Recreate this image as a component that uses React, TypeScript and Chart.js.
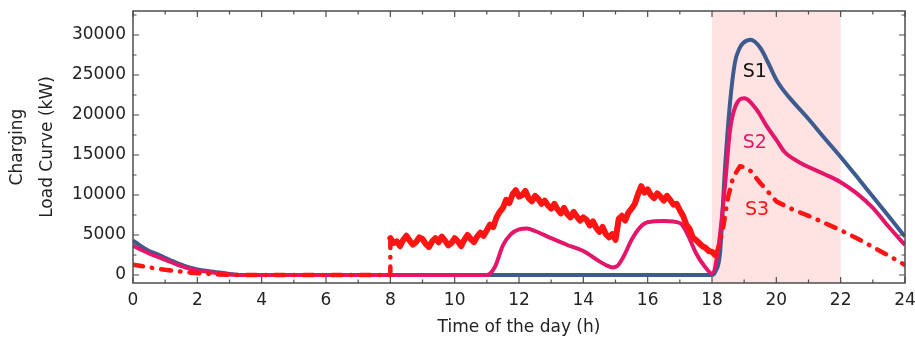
import { useEffect, useRef } from 'react';
import { Chart, registerables } from 'chart.js';

Chart.register(...registerables);

// ---- tick labels ----
const xTickValues = [0, 2, 4, 6, 8, 10, 12, 14, 16, 18, 20, 22, 24];
const yTickValues = [0, 5000, 10000, 15000, 20000, 25000, 30000];

// ---- S1 ----
const s1Hours = [0, 0.25, 0.5, 0.75, 1, 1.25, 1.5, 1.75, 2, 2.5, 3, 3.3, 18, 18.1, 18.25, 18.4, 18.56, 18.71, 18.85, 18.97, 19.2, 19.5, 19.75, 20, 20.2, 20.4, 21, 21.5, 22, 22.5, 23, 23.5, 24];
const s1Values = [4300, 3600, 3000, 2600, 2150, 1700, 1300, 950, 700, 420, 120, 0, 0, 400, 2750, 13100, 21500, 26500, 28300, 29000, 29400, 28400, 26500, 24400, 23200, 22200, 19500, 17100, 14750, 12300, 9800, 7300, 4800];

// ---- S2 ----
const s2Hours = [0, 0.25, 0.5, 0.75, 1, 1.25, 1.5, 1.75, 2, 2.5, 3, 3.3, 11, 11.25, 11.5, 11.75, 12, 12.25, 12.5, 13, 13.5, 14, 14.5, 14.75, 14.9, 15.05, 15.25, 15.5, 15.75, 16, 16.5, 17, 17.25, 17.5, 17.75, 18, 18.2, 18.4, 18.56, 18.72, 19, 19.4, 19.7, 20, 20.25, 20.5, 20.75, 21, 21.5, 22, 22.5, 23, 23.5, 24];
const s2Values = [3700, 3150, 2700, 2300, 1900, 1500, 1100, 800, 580, 300, 60, 0, 0, 1000, 3700, 5100, 5700, 5800, 5500, 4600, 3750, 3000, 1700, 1150, 950, 1100, 2300, 4400, 5900, 6600, 6750, 6500, 5000, 2750, 1200, 200, 3500, 11000, 18100, 21000, 22100, 20600, 18600, 16900, 15400, 14600, 14000, 13500, 12600, 11600, 10200, 8400, 6000, 3750];

// ---- S3 (morning, measured midday 8h-18h every 0.1 h, evening) ----
const s3MorningHours = [0, 0.5, 1, 1.5, 2, 2.5, 3, 3.5, 7.99];
const s3MorningValues = [1300, 950, 650, 420, 230, 100, 20, 0, 0];
const s3MidStartHour = 8;
const s3MidStepHour = 0.1;
const s3MidValues = [
  4600, 4000, 4200, 3600, 4400, 4900, 4300, 3800, 4100, 4700,
  4500, 3900, 3500, 4200, 4600, 4100, 4800, 4300, 3700, 4000,
  4600, 4200, 3600, 4400, 5000, 4500, 4100, 4800, 5300, 4900,
  5600, 6300, 6000, 7200, 7900, 8400, 9400, 9000, 10100, 10600,
  9800, 10000, 10500, 9600, 9200, 9900, 9500, 8900, 9300, 8700,
  8300, 8900, 8200, 7700, 8400, 7600, 7200, 7900, 7300, 6800,
  7200, 6900, 6200, 6700, 5900, 5400, 6000, 5100, 4700, 5100,
  4400, 7000, 7400, 6800, 7800, 8300, 8900, 10100, 11100, 10300,
  10700, 10000, 9600, 10200, 9800, 9300, 9900, 9400, 8800, 8900,
  8100, 7400, 6300, 5800, 4700, 4400, 4000, 3600, 3400, 3000,
  2900,
];
const s3EveningHours = [18.1, 18.2, 18.35, 18.5, 18.66, 18.87, 19, 19.2, 19.5, 19.7, 20, 20.5, 21, 21.5, 22, 22.5, 23, 23.5, 24];
const s3EveningValues = [2500, 3400, 6000, 9750, 12250, 13600, 13500, 13000, 11500, 10600, 9200, 8200, 7400, 6500, 5600, 4600, 3500, 2400, 1250];

// ---- shaded peak window & labels ----
const peakWindow = [18, 22];
const seriesLabels = ['S1', 'S2', 'S3'];
const labelHours = [19.33, 19.33, 19.4];
const labelValues = [25400, 16500, 8100];

const C_S1 = '#3d5b8e';
const C_S2 = '#e3166a';
const C_S3 = '#ff1414';
const labelColors = ['#111111', C_S2, C_S3];
const FRAME = '#4d4d4d';
const FONT = 'DejaVu Sans';

const toPoints = (hs: number[], vs: number[]) => hs.map((h, i) => ({ x: h, y: vs[i] }));

const s3Points = [
  ...toPoints(s3MorningHours, s3MorningValues),
  ...s3MidValues.map((v, i) => ({ x: Math.round((s3MidStartHour + i * s3MidStepHour) * 100) / 100, y: v })),
  ...toPoints(s3EveningHours, s3EveningValues),
];

const zeroPadding = (s: any) => {
  s.paddingTop = 0;
  s.paddingBottom = 0;
  s.paddingLeft = 0;
  s.paddingRight = 0;
};

const framePlugin = {
  id: 'framePlugin',
  beforeDatasetsDraw(chart: any) {
    const { ctx, chartArea, scales } = chart;
    const x = scales.x;
    const x0 = x.getPixelForValue(peakWindow[0]);
    const x1 = x.getPixelForValue(peakWindow[1]);
    ctx.save();
    ctx.fillStyle = '#ffe3e3';
    ctx.fillRect(x0, chartArea.top, x1 - x0, chartArea.bottom - chartArea.top);
    ctx.restore();
  },
  afterDatasetsDraw(chart: any) {
    const { ctx, chartArea, scales } = chart;
    const { left, right, top, bottom } = chartArea;
    const x = scales.x;
    const y = scales.y;
    ctx.save();
    ctx.strokeStyle = FRAME;
    ctx.lineWidth = 1.5;
    ctx.strokeRect(left, top, right - left, bottom - top);
    ctx.lineWidth = 1.2;
    const major = 6;
    const minor = 3.5;
    ctx.beginPath();
    for (let i = 0; i < xTickValues.length; i++) {
      const px = x.getPixelForValue(xTickValues[i]);
      ctx.moveTo(px, bottom); ctx.lineTo(px, bottom - major);
      ctx.moveTo(px, top); ctx.lineTo(px, top + major);
      if (i < xTickValues.length - 1) {
        const pm = x.getPixelForValue((xTickValues[i] + xTickValues[i + 1]) / 2);
        ctx.moveTo(pm, bottom); ctx.lineTo(pm, bottom - minor);
        ctx.moveTo(pm, top); ctx.lineTo(pm, top + minor);
      }
    }
    for (let i = 0; i < yTickValues.length; i++) {
      const py = y.getPixelForValue(yTickValues[i]);
      ctx.moveTo(left, py); ctx.lineTo(left + major, py);
      ctx.moveTo(right, py); ctx.lineTo(right - major, py);
      const mid = i < yTickValues.length - 1 ? (yTickValues[i] + yTickValues[i + 1]) / 2 : yTickValues[i] + (yTickValues[1] - yTickValues[0]) / 2;
      const pm = y.getPixelForValue(mid);
      if (pm > top) {
        ctx.moveTo(left, pm); ctx.lineTo(left + minor, pm);
        ctx.moveTo(right, pm); ctx.lineTo(right - minor, pm);
      }
    }
    ctx.stroke();
    ctx.font = `19px "${FONT}"`;
    ctx.textAlign = 'center';
    ctx.textBaseline = 'middle';
    seriesLabels.forEach((t, i) => {
      ctx.fillStyle = labelColors[i];
      ctx.fillText(t, x.getPixelForValue(labelHours[i]), y.getPixelForValue(labelValues[i]));
    });
    ctx.restore();
  },
};

export default function App() {
  const ref = useRef<HTMLCanvasElement>(null);
  useEffect(() => {
    const dash = [10, 9, 0.5, 9];
    const isMid = (c: any) => c.p0.parsed.x >= 8 && c.p1.parsed.x <= 18.1;
    const chart = new Chart(ref.current as HTMLCanvasElement, {
      type: 'line',
      data: {
        datasets: [
          {
            label: 'S3',
            data: s3Points,
            borderColor: C_S3,
            borderWidth: 4.5,
            pointRadius: 0,
            fill: false,
            tension: 0,
            borderCapStyle: 'round',
            borderJoinStyle: 'round',
            segment: {
              borderDash: (c: any) => (isMid(c) ? [] : dash),
              borderWidth: (c: any) => (isMid(c) ? 6 : 4.5),
            },
          } as any,
          {
            label: 'S2',
            data: toPoints(s2Hours, s2Values),
            borderColor: C_S2,
            borderWidth: 4,
            pointRadius: 0,
            fill: false,
            cubicInterpolationMode: 'monotone',
          },
          {
            label: 'S1',
            data: toPoints(s1Hours, s1Values),
            borderColor: C_S1,
            borderWidth: 4,
            pointRadius: 0,
            fill: false,
            cubicInterpolationMode: 'monotone',
          },
        ],
      },
      options: {
        responsive: false,
        animation: false,
        events: [],
        layout: { padding: { top: 11, right: 10, left: 0, bottom: 0 } },
        plugins: { legend: { display: false }, tooltip: { enabled: false } },
        scales: {
          x: {
            type: 'linear',
            min: 0,
            max: 24,
            afterBuildTicks: (s: any) => { s.ticks = xTickValues.map((v) => ({ value: v })); },
            afterFit: (s: any) => { s.height = 61; zeroPadding(s); },
            grid: { display: false, drawTicks: false },
            border: { display: false },
            ticks: {
              autoSkip: false,
              maxRotation: 0,
              padding: 7,
              color: '#222',
              font: { family: FONT, size: 17 },
              callback: (v: any) => String(v),
            },
            title: {
              display: true,
              text: 'Time of the day (h)',
              color: '#222',
              font: { family: FONT, size: 17, lineHeight: 1.2 },
              padding: { top: 0, bottom: 6 },
            },
          },
          y: {
            type: 'linear',
            min: -1000,
            max: 33000,
            afterBuildTicks: (s: any) => { s.ticks = yTickValues.map((v) => ({ value: v })); },
            afterFit: (s: any) => { s.width = 133; zeroPadding(s); },
            grid: { display: false, drawTicks: false },
            border: { display: false },
            ticks: {
              padding: 7,
              color: '#222',
              font: { family: FONT, size: 17 },
              callback: (v: any) => String(v),
            },
            title: {
              display: true,
              text: ['Charging', 'Load Curve (kW)'],
              color: '#222',
              font: { family: FONT, size: 17, lineHeight: 1.8 },
              padding: { top: 2, bottom: 0 },
            },
          },
        },
      },
      plugins: [framePlugin],
    });
    return () => chart.destroy();
  }, []);
  return (
    <canvas
      ref={ref}
      width={915}
      height={344}
      style={{ position: 'absolute', left: 0, top: 0, width: 915, height: 344 }}
    />
  );
}
